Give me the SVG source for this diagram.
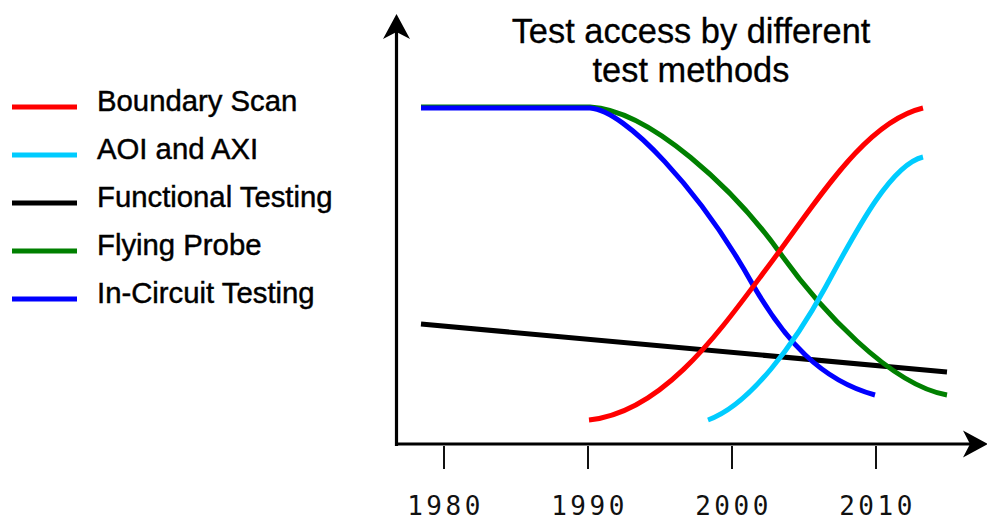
<svg xmlns="http://www.w3.org/2000/svg" width="987" height="520" viewBox="0 0 987 520">
<style>
.leg{font-family:"Liberation Sans",Arial,sans-serif;font-size:29.3px;fill:#000;stroke:#000;stroke-width:0.45}
.title{font-family:"Liberation Sans",Arial,sans-serif;font-size:34.4px;fill:#000;text-anchor:middle;stroke:#000;stroke-width:0.3}
.tick{font-family:"DejaVu Sans Mono","Liberation Mono",monospace;font-size:26px;fill:#111;text-anchor:middle;letter-spacing:3.5px}
.curve{fill:none;stroke-width:5}
.axis{fill:none;stroke:#000;stroke-width:3.2}
.tk{stroke:#111;stroke-width:2}
</style>
<defs>
<marker id="arr" markerUnits="userSpaceOnUse" markerWidth="30" markerHeight="30" refX="20" refY="14" orient="auto">
<path d="M1,0.5 L26,14 L1,27.5 L8,14 Z" fill="#000"/>
</marker>
</defs>
<rect width="987" height="520" fill="#fff"/>

<g id="title">
<text class="title" x="691" y="43">Test access by different</text>
<text class="title" x="691" y="82">test methods</text>
</g>

<g id="legend">
<g id="leg-boundary"><line x1="12" y1="107" x2="77" y2="107" stroke="#ff0000" stroke-width="5"/><text class="leg" x="97" y="111">Boundary Scan</text></g>
<g id="leg-aoi"><line x1="12" y1="155" x2="77" y2="155" stroke="#00ccff" stroke-width="5"/><text class="leg" x="97" y="159">AOI and AXI</text></g>
<g id="leg-functional"><line x1="12" y1="203" x2="77" y2="203" stroke="#000" stroke-width="5"/><text class="leg" x="97" y="207">Functional Testing</text></g>
<g id="leg-flying"><line x1="12" y1="251" x2="77" y2="251" stroke="#008000" stroke-width="5"/><text class="leg" x="97" y="255">Flying Probe</text></g>
<g id="leg-ict"><line x1="12" y1="299" x2="77" y2="299" stroke="#0000ff" stroke-width="5"/><text class="leg" x="97" y="303">In-Circuit Testing</text></g>
</g>

<g id="axes">
<line class="axis" x1="396.5" y1="446" x2="396.5" y2="20" marker-end="url(#arr)"/>
<line class="axis" x1="395" y1="444" x2="982" y2="444" marker-end="url(#arr)"/>
<line class="tk" x1="444" y1="446" x2="444" y2="469"/>
<line class="tk" x1="588" y1="446" x2="588" y2="469"/>
<line class="tk" x1="732" y1="446" x2="732" y2="469"/>
<line class="tk" x1="876" y1="446" x2="876" y2="469"/>
<text class="tick" x="445.5" y="515">1980</text>
<text class="tick" x="589.5" y="515">1990</text>
<text class="tick" x="733.5" y="515">2000</text>
<text class="tick" x="877.5" y="515">2010</text>
</g>

<g id="curves">
<line id="functional" class="curve" x1="421" y1="324" x2="947" y2="372" stroke="#000"/>
<path id="flying" class="curve" stroke="#008000" d="M421,107 L590,107 C650,110 735,190 780,253 C820,309 890,385 947,395"/>
<path id="ict" class="curve" stroke="#0000ff" d="M421,108 L590,108 C625,110 700,190 753,285 C785,340 820,380 875,395"/>
<path id="boundary" class="curve" stroke="#ff0000" d="M589,420 C665,412 722,328 770,264 C818,200 865,122 923,108"/>
<path id="aoi" class="curve" stroke="#00ccff" d="M708,420 C750,405 795,343 825,288 C855,233 890,165 923,157"/>
</g>
</svg>
